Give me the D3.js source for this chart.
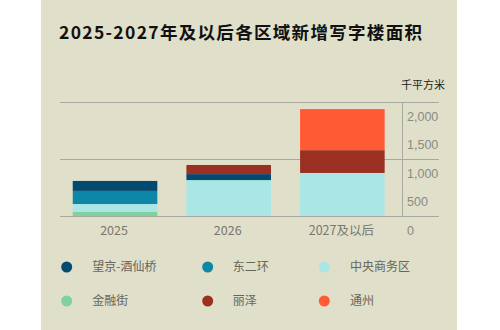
<!DOCTYPE html>
<html><head><meta charset="utf-8">
<script src="https://cdn.jsdelivr.net/npm/d3@7"></script>
<style>
html,body{margin:0;padding:0;background:#fff;}
svg{display:block;font-family:"Noto Sans CJK SC","Noto Sans",sans-serif;}
</style></head>
<body>
<svg id="c" width="500" height="330"></svg>
<script>
const categories = ["2025", "2026", "2027及以后"];
const seriesNames = ["金融街", "中央商务区", "东二环", "望京-酒仙桥", "丽泽", "通州"];
const jinrongjie = [75, 0, 0];
const cbd = [135, 630, 755];
const dongerhuan = [230, 0, 0];
const wangjing = [175, 105, 0];
const lize = [0, 160, 400];
const tongzhou = [0, 0, 720];
const yTicks = [0, 500, 1000, 1500, 2000];
const gridValues = [0, 1000, 2000];
const legendOrder = ["望京-酒仙桥", "东二环", "中央商务区", "金融街", "丽泽", "通州"];
const title = "2025-2027年及以后各区域新增写字楼面积";
const unit = "千平方米";

const colors = {
  "望京-酒仙桥": "#034a70",
  "东二环": "#0e87a7",
  "中央商务区": "#abe6e7",
  "金融街": "#80d19b",
  "丽泽": "#9b2f22",
  "通州": "#ff5a33"
};
const valuesBy = {
  "金融街": jinrongjie, "中央商务区": cbd, "东二环": dongerhuan,
  "望京-酒仙桥": wangjing, "丽泽": lize, "通州": tongzhou
};

const svg = d3.select("#c");
svg.append("rect").attr("x", 41).attr("y", 0).attr("width", 416).attr("height", 330).attr("fill", "#e0dfc9");

svg.append("text").attr("x", 59).attr("y", 39)
  .attr("font-size", 17.5).attr("font-weight", "bold").attr("fill", "#111")
  .attr("textLength", 363).attr("lengthAdjust", "spacing")
  .text(title);

svg.append("text").attr("x", 445).attr("y", 89).attr("text-anchor", "end")
  .attr("font-size", 11).attr("fill", "#222").text(unit);

const x = d3.scaleBand().domain(categories).range([58.2, 399.2]).paddingInner(0.256).paddingOuter(0.128);
const y = d3.scaleLinear().domain([0, 2000]).range([216, 102]);

// gridlines
svg.append("g").selectAll("line").data(gridValues).join("line")
  .attr("x1", 60).attr("x2", 439)
  .attr("y1", d => y(d) + 0.5).attr("y2", d => y(d) + 0.5)
  .attr("stroke", "#aaa9a0").attr("stroke-width", 1);

// stacked bars
const table = categories.map((c, i) => {
  const o = {cat: c};
  seriesNames.forEach(s => o[s] = valuesBy[s][i]);
  return o;
});
const stack = d3.stack().keys(seriesNames)(table);
svg.append("g").selectAll("g").data(stack).join("g")
  .attr("fill", d => colors[d.key])
  .selectAll("rect").data(d => d.filter(p => p[1] - p[0] > 0)).join("rect")
  .attr("x", d => x(d.data.cat))
  .attr("width", x.bandwidth())
  .attr("y", d => y(d[1]))
  .attr("height", d => y(d[0]) - y(d[1]));

// baseline redraw
svg.append("line").attr("x1", 60).attr("x2", 439).attr("y1", y(0) + 0.5).attr("y2", y(0) + 0.5)
  .attr("stroke", "#aaa9a0");

// vertical axis line
svg.append("line").attr("x1", 402.5).attr("x2", 402.5).attr("y1", y(2000)).attr("y2", y(0))
  .attr("stroke", "#aaa9a0");

// y tick labels (placed below their value)
const yAxis = d3.axisRight(y).tickValues(yTicks).tickSize(0).tickPadding(0).tickFormat(d3.format(","));
const ya = svg.append("g").attr("transform", "translate(407,14)").call(yAxis);
ya.select(".domain").remove();
ya.selectAll("text").attr("font-size", 12.5).attr("fill", "#8a8a84")
  .attr("font-family", "'Liberation Sans','Noto Sans',sans-serif");

// x labels
const xAxis = d3.axisBottom(x).tickSize(0).tickPadding(0);
const xa = svg.append("g").attr("transform", "translate(-1,226)").call(xAxis);
xa.select(".domain").remove();
xa.selectAll("text").attr("font-size", 12.5).attr("fill", "#77776f")
  .attr("font-family", "'Noto Sans CJK SC',sans-serif");

// legend
const lx = [66.7, 207.7, 324.3];
const tx = [92.3, 232.7, 350];
const ly = [267, 301];
const lg = svg.append("g").selectAll("g").data(legendOrder).join("g")
  .attr("transform", (d, i) => `translate(0,${ly[Math.floor(i / 3)]})`);
lg.append("circle").attr("cx", (d, i) => lx[i % 3]).attr("cy", 0).attr("r", 5.5).attr("fill", d => colors[d]);
lg.append("text").attr("x", (d, i) => tx[i % 3]).attr("y", 0).attr("dy", "0.35em")
  .attr("font-size", 12).attr("fill", "#66665f").text(d => d);
</script>
</body></html>
